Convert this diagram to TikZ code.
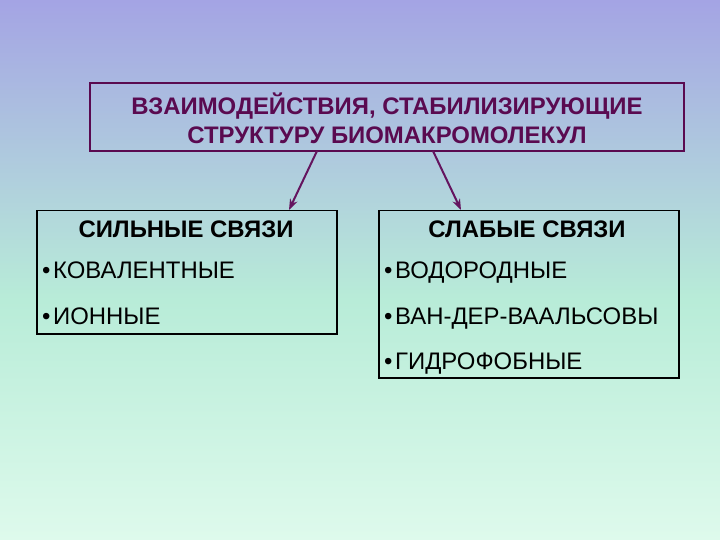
\documentclass[tikz,border=0pt]{standalone}
\usepackage{fontspec}
\setmainfont{Liberation Sans}
\usetikzlibrary{arrows.meta}
\definecolor{bgtop}{RGB}{164,164,228}
\definecolor{bgmid}{RGB}{184,236,216}
\definecolor{bgbot}{RGB}{222,250,236}
\definecolor{plum}{RGB}{90,10,80}
\definecolor{arrowc}{RGB}{100,20,95}
\newcommand{\bul}{•\kern2.6bp}
\tikzset{
  headbox/.style={draw=plum, line width=1.5bp, minimum width=594bp, minimum height=68bp, inner sep=0pt},
  listbox/.style={draw=black, line width=1.5bp, inner sep=0pt, anchor=north west},
  headtext/.style={text=plum, font=\bfseries\fontsize{24}{29}\selectfont, align=center},
  ttl/.style={font=\bfseries\fontsize{24}{28}\selectfont},
  item/.style={font=\fontsize{24}{28}\selectfont, anchor=base west, inner sep=0pt},
  conn/.style={draw=arrowc, line width=2bp, -{Stealth[length=11bp,width=8bp]}}
}
\begin{document}
\begin{tikzpicture}[x=1bp,y=-1bp]
\shade[top color=bgtop, bottom color=bgmid] (0,0) rectangle (720,300);
\shade[top color=bgmid, bottom color=bgbot] (0,300) rectangle (720,540);
\useasboundingbox (0,0) rectangle (720,540);
\node[headbox] (top) at (387,117) {};
\node[headtext] (toptext) at (387,118) {ВЗАИМОДЕЙСТВИЯ, СТАБИЛИЗИРУЮЩИЕ\\СТРУКТУРУ БИОМАКРОМОЛЕКУЛ};
\node[listbox, minimum width=300bp, minimum height=123bp] (left) at (36,210) {};
\node[listbox, minimum width=300bp, minimum height=167bp] (right) at (378,210) {};
\node[ttl] (lt) at (186,229) {СИЛЬНЫЕ СВЯЗИ};
\node[ttl] (rt) at (527,229) {СЛАБЫЕ СВЯЗИ};
\node[item] (l1) at (42,279) {\bul КОВАЛЕНТНЫЕ};
\node[item] (l2) at (42,324) {\bul ИОННЫЕ};
\node[item] (r1) at (384,279) {\bul ВОДОРОДНЫЕ};
\node[item] (r2) at (384,324) {\bul ВАН-ДЕР-ВААЛЬСОВЫ};
\node[item] (r3) at (384,369) {\bul ГИДРОФОБНЫЕ};
\coordinate (a1) at (317,151);
\coordinate (a2) at (433,151);
\draw[conn] (a1) -- (left.north -| 289,0);
\draw[conn] (a2) -- (right.north -| 461,0);
\end{tikzpicture}
\end{document}
